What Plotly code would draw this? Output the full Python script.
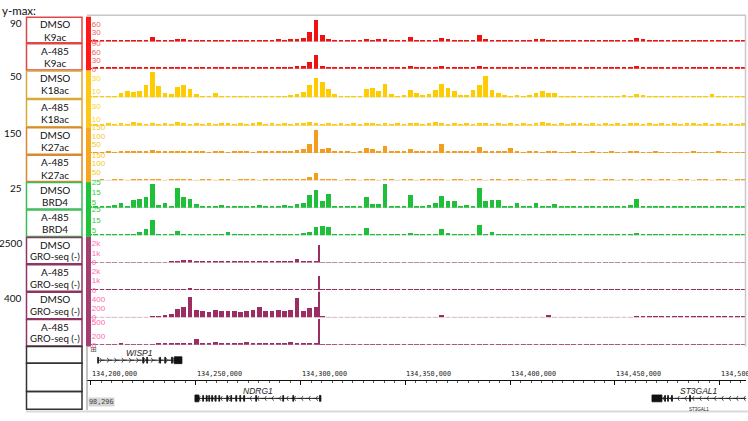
import numpy as np
import plotly.graph_objects as go

W, H = 748, 421

# genome window, hg19 chr8
view_start = 134198296
view_end = 134512600
bin_start = 134198000
bin_size = 3000

# ---- data: signal per 3 kb bin (105 bins) ----
k9_dmso = [3,3,4,5,5,6,5,6,7,6, 15,5,4,5,9,8,6,5,6,7, 5,6,5,6,7,6,5,6,7,6,
           8,7,9,10,14,32,75,22,8,5, 4,5,4,5,10,6,8,9,5,4, 5,15,5,6,5,7,13,10,6,5,
           6,7,22,8,5,4,5,5,4,6, 5,8,9,5,7,4,5,4,5,4, 4,5,4,5,4,5,6,12,9,5,
           4,5,4,5,4,4,5,4,6,7, 4,5,4,5,4]
k9_a485 = [2,3,3,4,3,6,4,4,5,4, 6,4,3,4,3,4,5,4,3,4, 4,3,4,5,4,3,4,4,5,4,
           5,6,7,8,9,22,48,9,4,4, 3,4,3,4,5,4,4,5,4,3, 4,9,4,3,4,5,8,7,4,3,
           4,4,8,5,4,3,4,4,5,4, 3,4,5,4,4,3,4,4,3,4, 4,3,4,3,4,5,4,8,7,4,
           3,4,3,4,4,3,4,3,4,5, 4,3,4,3,4]
k18_dmso = [2,2,3,2,3,8,10,9,11,20, 40,18,7,6,16,20,14,6,3,3, 8,3,2,3,2,3,3,2,3,2,
            3,3,4,5,9,20,31,24,14,6, 3,3,2,3,13,15,11,21,6,3, 4,12,7,4,5,12,22,15,10,4,
            4,12,20,34,12,8,4,3,4,3, 4,8,10,7,8,3,3,2,3,3, 2,3,3,2,3,4,3,6,4,1,
            2,1,1,2,1,1,1,2,1,5, 2,1,1,2,1]
k18_a485 = [2,3,3,4,3,4,3,5,4,3, 4,3,4,3,5,4,3,4,3,4, 3,4,4,3,4,3,4,5,3,4,
            3,4,3,4,4,5,4,3,4,3, 4,3,4,3,4,4,3,4,3,4, 3,4,4,3,4,5,4,3,4,3,
            4,3,4,4,3,4,3,4,3,4, 3,4,6,4,3,4,3,4,4,3, 4,3,4,3,4,3,4,4,3,4,
            3,4,3,4,3,4,4,3,4,3, 4,3,4,3,4]
k27_dmso = [2,3,3,4,3,6,4,4,5,6, 15,4,4,5,8,6,4,4,5,3, 4,4,3,4,5,4,3,4,4,5,
            6,8,10,14,22,50,133,22,28,5, 4,4,3,4,26,22,10,37,8,4, 5,22,4,4,5,6,48,9,5,4,
            4,5,33,10,9,4,5,28,4,3, 4,4,3,7,4,3,3,4,3,3, 4,3,3,4,3,3,4,6,3,3,
            4,3,3,2,3,3,4,3,3,3, 6,3,3,2,3]
k27_a485 = [3,3,4,3,4,4,3,4,5,4, 5,4,3,4,4,5,4,3,4,4, 3,4,4,3,4,5,4,3,4,4,
            4,5,4,5,7,20,46,8,4,4, 3,4,4,3,4,4,3,4,4,3, 4,4,3,4,4,5,4,3,4,4,
            3,4,4,3,4,4,3,4,4,3, 4,4,3,4,4,3,4,4,3,4, 4,3,4,4,3,4,4,3,4,4,
            3,4,4,3,4,4,3,4,4,3, 4,4,3,4,4]
brd4_dmso = [1,1,2,1,3,5,2,7,8,10, 23,3,5,2,19,10,8,4,1,2, 1,3,1,2,1,1,2,3,1,2,
             1,3,2,4,5,12,17,6,13,2, 1,2,1,2,10,4,4,23,2,1, 2,12,1,2,3,5,11,6,6,2,
             3,2,19,6,7,7,1,2,5,1, 2,5,2,1,4,1,2,1,1,2, 1,1,2,1,2,2,3,8,2,1,
             1,2,1,1,1,2,1,1,1,2, 1,1,1,2,1]
brd4_a485 = [1,1,1,2,1,2,1,2,4,6, 15,2,1,2,5,2,1,2,1,2, 1,2,4,1,2,1,2,1,2,1,
             2,1,2,2,3,4,8,9,8,2, 1,2,1,2,7,2,1,2,1,2, 1,3,1,2,1,2,6,3,2,1,
             2,1,10,2,4,2,1,2,1,2, 1,2,1,2,2,1,2,1,2,1, 2,1,2,1,2,1,2,3,1,2,
             1,2,1,2,1,2,1,1,2,1, 2,1,2,1,1]
gro_dmso_a = [20,15,20,25,20,15,20,25,20,15, 20,30,60,150,200,260,280,220,180,160,
              170,150,180,160,150,170,160,140,150,160, 170,180,190,360,150,190,220,25,15,20,
              10,18,22,12,15,20,14,10,24,16, 12,15,20,10,18,22,15,12,20,14,
              10,16,20,12,15,18,14,10,22,15, 12,15,20,10,14,20,16,10,18,15,
              10,14,22,12,15,18,16,10,20,14, 12,15,18,10,16,20,14,12,18,15, 10,16,20,12,15]
gro_a485_a = [15,20,15,25,20,15,20,15,25,20, 20,25,35,40,45,50,100,45,40,35,
              40,45,35,60,40,35,45,40,35,40, 45,40,50,45,40,45,50,15,10,15,
              10,15,12,18,10,14,20,12,10,16, 12,18,10,14,12,20,15,10,12,18,
              14,10,16,12,18,10,14,12,10,16, 12,14,10,18,12,16,10,14,12,10,
              16,12,14,10,18,12,10,14,16,12, 10,14,12,18,10,16,12,10,14,12, 16,10,12,14,10]
gro_dmso_b = [10,8,12,10,8,12,10,14,10,12, 15,20,60,90,200,240,460,180,150,130,
              170,140,150,160,130,140,180,240,150,140, 170,160,180,440,160,220,240,15,8,10,
              6,8,12,10,8,6,10,8,12,8, 6,10,8,10,12,8,60,10,8,12,
              6,10,8,12,10,8,6,10,8,12, 10,8,10,50,10,8,12,6,10,8,
              12,10,8,6,10,8,12,35,30,28, 32,30,28,30,26,30,32,28,30,26, 28,30,26,28,26]
gro_a485_b = [8,10,12,8,10,15,10,8,12,10, 12,15,25,30,35,40,45,130,40,35,
              60,35,30,40,35,50,35,30,40,35, 40,35,60,40,35,40,45,10,8,6,
              8,10,6,12,8,10,6,8,12,10, 6,8,10,12,8,6,14,10,8,6,
              10,8,12,6,10,8,6,12,10,8, 6,10,8,12,10,8,6,10,8,12,
              8,6,10,12,8,10,6,8,12,10, 8,6,10,8,12,6,10,8,6,10, 8,12,6,10,8]

# GRO-seq spike at NDRG1 promoter
spike_pos = 134309300
spike_heights = [1900, 1430, 700, 700]

track_values = [k9_dmso, k9_a485, k18_dmso, k18_a485, k27_dmso, k27_a485,
                brd4_dmso, brd4_a485, gro_dmso_a, gro_a485_a, gro_dmso_b, gro_a485_b]
conditions = ["DMSO", "A-485"] * 6
marks = ["K9ac", "K9ac", "K18ac", "K18ac", "K27ac", "K27ac", "BRD4", "BRD4",
         "GRO-seq (-)", "GRO-seq (-)", "GRO-seq (-)", "GRO-seq (-)"]
groups = [0, 0, 1, 1, 2, 2, 3, 3, 4, 4, 5, 5]
ymax_text = ["90", "50", "150", "25", "2500", "400"]
y_tops = [84, 90, 42, 42, 150, 150, 25, 25, 2700, 2700, 580, 580]
tick_vals = [[0, 30, 60], [0, 30, 60, 90], [10, 30], [10, 30], [50, 100, 150], [50, 100, 150],
             [5, 15, 25], [5, 15, 25], [0, 1000, 2000], [0, 1000, 2000], [0, 200, 400], [0, 200, 500]]
tick_text = [[str(v) for v in t] for t in tick_vals]
tick_text[8] = tick_text[9] = ["0", "1k", "2k"]

ruler_ticks = [134200000, 134250000, 134300000, 134350000, 134400000, 134450000, 134500000]

genes = [
    dict(name="WISP1", strand="+", start=134203200, end=134243400, lane=0,
         exons=[(134203200, 134203600), (134224700, 134225100), (134226600, 134227000),
                (134232800, 134233200), (134235200, 134235600), (134238400, 134238900),
                (134239700, 134243400)]),
    dict(name="NDRG1", strand="-", start=134249600, end=134309700, lane=1,
         exons=[(134249600, 134251500), (134253300, 134253700), (134255000, 134255400),
                (134256200, 134256600), (134257600, 134258000), (134259300, 134259700),
                (134261000, 134261400), (134264800, 134265200), (134266700, 134267100),
                (134269100, 134269500), (134271000, 134271400), (134272900, 134273300),
                (134278600, 134279000), (134291500, 134291900), (134296300, 134296700),
                (134309000, 134309700)]),
    dict(name="ST3GAL1", strand="-", start=134467650, end=134584183, lane=1,
         exons=[(134467650, 134472400), (134473700, 134474100), (134475100, 134475500),
                (134477000, 134477400), (134485600, 134486000)]),
]

# ---- colours / layout ----
track_cols = ["#ee1111", "#ffcc00", "#f49c1c", "#1fbf3a", "#9b2d63", "#9b2d63"]
label_cols = ["#f25c5c", "#ffd21f", "#f7c52a", "#33cc44", "#ff66b3", "#ff66b3"]
box_cols = ["#e04848", "#d6aa3a", "#d98a30", "#3cb95a", "#8e3563", "#8e3563"]
strip_cols = ["#ff1a1a", "#ffc61a", "#f5a623", "#22c33c", "#a23f70", "#a23f70"]

row_tops = [13, 40, 68, 97, 126, 154, 182, 210, 238, 266, 294, 322]
row_bots = [40, 68, 97, 126, 154, 182, 210, 238, 266, 294, 322, 350]


def py(p):
    return 1 - p / H


def px(p):
    return p / W


def note(x, y, text, size, color="#111", family="Lato", xanchor="center", **kw):
    return dict(x=x, y=y, xref="paper", yref="paper", text=text, showarrow=False,
                xanchor=xanchor, yanchor="middle", font=dict(family=family, size=size, color=color), **kw)


XDOM = [px(87.4), px(746.2)]
centers = bin_start + bin_size / 2 + bin_size * np.arange(105)

fig = go.Figure()
layout = dict(width=W, height=H, margin=dict(l=0, r=0, t=0, b=0),
              paper_bgcolor="white", plot_bgcolor="rgba(0,0,0,0)",
              showlegend=False, barmode="overlay", bargap=0)
layout["xaxis"] = dict(domain=XDOM, range=[view_start, view_end], showgrid=False,
                       zeroline=False, showticklabels=False, ticks="", anchor="y")
shapes, annos = [], []

for k in range(12):
    g = groups[k]
    yref = "y" if k == 0 else "y%d" % (k + 1)
    yname = "yaxis" if k == 0 else "yaxis%d" % (k + 1)
    col = track_cols[g]
    fig.add_trace(go.Bar(x=centers, y=track_values[k], width=bin_size * 0.75, xaxis="x", yaxis=yref,
                         marker=dict(color=col, line=dict(width=0))))
    if g >= 4:
        fig.add_trace(go.Bar(x=[spike_pos], y=[spike_heights[k - 8]], width=700, xaxis="x",
                             yaxis=yref, marker=dict(color=col, line=dict(width=0))))
    layout[yname] = dict(domain=[py(row_bots[k] - 1.8), py(row_tops[k])], range=[0, y_tops[k]],
                         anchor="x", showgrid=False, zeroline=False, showline=False,
                         tickmode="array", tickvals=tick_vals[k], ticktext=tick_text[k],
                         ticks="inside", ticklen=3, tickwidth=1, tickcolor=label_cols[g],
                         ticklabelposition="inside", ticklabeloverflow="allow",
                         tickfont=dict(size=8, color=label_cols[g], family="Liberation Sans"))
    # baseline
    shapes.append(dict(type="line", xref="paper", yref=yref, x0=XDOM[0], x1=XDOM[1], y0=0, y1=0,
                       line=dict(color="#c4c4c4", width=1), layer="below"))
    # label box
    shapes.append(dict(type="rect", xref="paper", yref="paper", x0=px(26.5), x1=px(82),
                       y0=py(row_bots[k] - 0.5), y1=py(row_tops[k] + 0.5),
                       line=dict(color=box_cols[g], width=1.5)))
    annos.append(note(px(54.5), py(row_tops[k] + 7.8), conditions[k], 10))
    annos.append(note(px(54.5), py(row_tops[k] + 20.3), marks[k], 9.6 if k >= 8 else 10))

# colour strip per group
group_rows = [(13, 68), (68, 126), (126, 182), (182, 238), (238, 350)]
for gi, (a, b) in enumerate(group_rows):
    shapes.append(dict(type="rect", xref="paper", yref="paper", x0=px(86), x1=px(91),
                       y0=py(b), y1=py(a), fillcolor=strip_cols[gi], line=dict(width=0)))

# y-max numbers
for gi, rt in enumerate([13, 68, 126, 182, 238, 294]):
    annos.append(note(px(24), py(rt + 6), ymax_text[gi], 10, xanchor="right"))
annos.append(note(0, py(7), "y-max:", 11.5, xanchor="left"))

# gene / ruler boxes
for a, b in [(350, 367), (367, 396), (396, 414)]:
    shapes.append(dict(type="rect", xref="paper", yref="paper", x0=px(26.5), x1=px(82),
                       y0=py(b), y1=py(a), line=dict(color="#333333", width=1.5)))

# frame lines
shapes.append(dict(type="line", xref="paper", yref="paper", x0=px(87), x1=px(746), y0=py(11.5), y1=py(11.5),
                   line=dict(color="#c8c8c8", width=1.5)))
shapes.append(dict(type="line", xref="paper", yref="paper", x0=px(745.5), x1=px(745.5), y0=py(350), y1=py(11.5),
                   line=dict(color="#c8c8c8", width=1.5)))
shapes.append(dict(type="line", xref="paper", yref="paper", x0=px(87), x1=px(87), y0=py(415), y1=py(350),
                   line=dict(color="#8a8a8a", width=1)))
shapes.append(dict(type="line", xref="paper", yref="paper", x0=px(26), x1=1, y0=py(416.5), y1=py(416.5),
                   line=dict(color="#d9d9d9", width=2)))

# ruler
layout["yaxis13"] = dict(domain=[py(384), py(372)], range=[0, 1], visible=False, anchor="x2")
layout["xaxis2"] = dict(domain=XDOM, range=[view_start, view_end], anchor="y13", showgrid=False,
                        zeroline=False, showline=True, linecolor="#111", linewidth=1,
                        tickmode="array", tickvals=ruler_ticks, ticks="outside", ticklen=4,
                        tickcolor="#111", showticklabels=False,
                        minor=dict(dtick=5000, tick0=134200000, ticks="outside", ticklen=2,
                                   tickcolor="#555", showgrid=False))
fig.add_trace(go.Scatter(x=[view_start], y=[0], xaxis="x2", yaxis="y13", mode="markers",
                         marker=dict(opacity=0), hoverinfo="skip"))
for t in ruler_ticks:
    annos.append(dict(x=t, xref="x2", y=py(378.5), yref="paper", text=f"{t:,}", showarrow=False,
                      xanchor="left", yanchor="middle", xshift=-1,
                      font=dict(family="DejaVu Sans Mono", size=6.8, color="#222")))

# genes
layout["yaxis14"] = dict(domain=[py(416), py(350)], range=[416, 350], visible=False, anchor="x")
lane_y = [364, 403]
lane_lab = [356.5, 395]
for gd in genes:
    ly = lane_y[gd["lane"]]
    s, e = max(gd["start"], view_start), min(gd["end"], view_end + 5000)
    fig.add_trace(go.Scatter(x=[s, e], y=[ly, ly], xaxis="x", yaxis="y14", mode="lines",
                             line=dict(color="#222", width=1), hoverinfo="skip"))
    chev = np.arange(gd["start"] + 1800, min(gd["end"], view_end), 3500)
    fig.add_trace(go.Scatter(x=chev, y=[ly] * len(chev), xaxis="x", yaxis="y14", mode="markers",
                             marker=dict(symbol="y-right" if gd["strand"] == "+" else "y-left",
                                         size=4, line=dict(color="#222", width=0.8)),
                             hoverinfo="skip"))
    for j, (a, b) in enumerate(gd["exons"]):
        big = (b - a) > 1000
        h = 3.5 if big else 3
        shapes.append(dict(type="rect", xref="x", yref="y14", x0=a, x1=b, y0=ly - h, y1=ly + h,
                           fillcolor="#111", line=dict(color="#111", width=0.8)))
    lx = (s + min(gd["end"], view_end)) / 2
    annos.append(dict(x=lx, xref="x", y=py(lane_lab[gd["lane"]]), yref="paper", text="<i>%s</i>" % gd["name"],
                      showarrow=False, xanchor="center", yanchor="middle",
                      font=dict(family="Liberation Sans", size=8.5, color="#222")))
    if gd["name"] == "ST3GAL1":
        annos.append(dict(x=lx, xref="x", y=py(414.5), yref="paper", text=gd["name"], showarrow=False,
                          xanchor="center", yanchor="middle",
                          font=dict(family="Liberation Sans", size=4.5, color="#222")))

annos.append(note(px(88), py(353.5), "⊞", 8, color="#555", family="DejaVu Sans", xanchor="left"))
annos.append(note(px(87.5), py(407), f"{view_start % 100000:,}", 6.8, color="#444",
                  family="DejaVu Sans Mono", xanchor="left", bgcolor="#d6d6d6", borderpad=0))

layout["shapes"] = shapes
layout["annotations"] = annos
fig.update_layout(**layout)
fig.write_html("out.html", config={"displayModeBar": False},
               post_script="document.body.style.margin='0px';")
